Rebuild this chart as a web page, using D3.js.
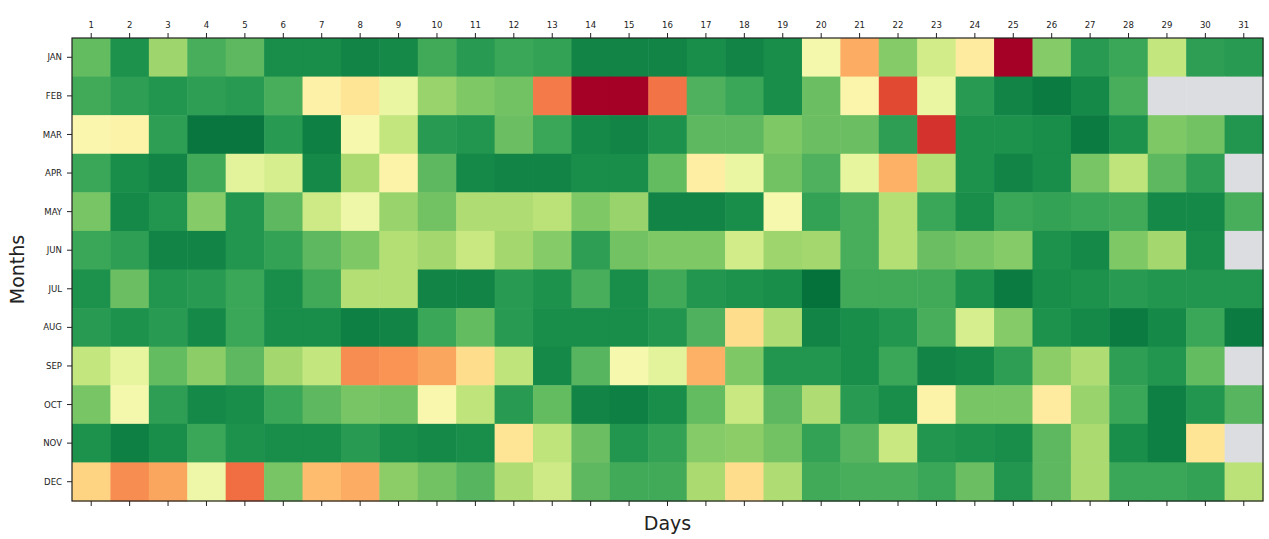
<!DOCTYPE html>
<html>
<head>
<meta charset="utf-8">
<script src="https://cdn.jsdelivr.net/npm/d3@7"></script>
<style>
  html, body { margin: 0; padding: 0; background: #ffffff; }
  svg { display: block; }
</style>
</head>
<body>
<svg id="chart" width="1269" height="539"></svg>
<script>
const months = ["JAN","FEB","MAR","APR","MAY","JUN","JUL","AUG","SEP","OCT","NOV","DEC"];
const days = d3.range(1, 32);

const jan = [0.80,0.91,0.71,0.84,0.81,0.92,0.92,0.94,0.93,0.85,0.89,0.86,0.87,0.94,0.94,0.94,0.92,0.94,0.92,0.52,0.30,0.75,0.61,0.44,0.00,0.75,0.89,0.86,0.64,0.88,0.89];
const feb = [0.85,0.88,0.90,0.88,0.89,0.84,0.46,0.42,0.55,0.72,0.76,0.78,0.22,0.00,0.00,0.21,0.83,0.86,0.92,0.79,0.48,0.14,0.55,0.89,0.94,0.96,0.93,0.84,null,null,null];
const mar = [0.49,0.47,0.88,0.97,0.97,0.89,0.95,0.51,0.64,0.89,0.90,0.79,0.86,0.93,0.94,0.91,0.81,0.81,0.76,0.79,0.79,0.88,0.10,0.91,0.91,0.92,0.96,0.91,0.76,0.78,0.90];
const apr = [0.86,0.92,0.94,0.85,0.57,0.60,0.93,0.69,0.47,0.81,0.93,0.94,0.94,0.92,0.92,0.80,0.45,0.55,0.78,0.83,0.56,0.31,0.67,0.91,0.94,0.92,0.77,0.65,0.81,0.88,null];
const may = [0.77,0.93,0.90,0.75,0.90,0.81,0.62,0.54,0.72,0.78,0.68,0.68,0.66,0.76,0.72,0.94,0.94,0.92,0.51,0.87,0.84,0.67,0.86,0.92,0.86,0.87,0.86,0.85,0.93,0.93,0.84];
const jun = [0.86,0.88,0.94,0.94,0.90,0.87,0.81,0.76,0.67,0.70,0.63,0.70,0.75,0.88,0.78,0.76,0.76,0.61,0.71,0.70,0.84,0.67,0.79,0.77,0.75,0.91,0.93,0.76,0.70,0.92,null];
const jul = [0.91,0.79,0.90,0.89,0.86,0.92,0.85,0.67,0.67,0.94,0.94,0.89,0.91,0.84,0.92,0.85,0.90,0.91,0.92,0.98,0.85,0.85,0.85,0.91,0.96,0.92,0.91,0.89,0.90,0.90,0.90];
const aug = [0.89,0.91,0.89,0.93,0.86,0.92,0.92,0.95,0.94,0.86,0.80,0.89,0.92,0.92,0.92,0.90,0.83,0.40,0.68,0.94,0.92,0.90,0.84,0.60,0.75,0.91,0.93,0.96,0.93,0.86,0.96];
const sep = [0.64,0.56,0.80,0.74,0.81,0.70,0.64,0.25,0.26,0.29,0.40,0.65,0.93,0.82,0.51,0.57,0.31,0.76,0.90,0.90,0.92,0.86,0.94,0.93,0.88,0.74,0.68,0.88,0.90,0.80,null];
const oct = [0.77,0.52,0.88,0.93,0.92,0.86,0.81,0.77,0.78,0.50,0.65,0.89,0.80,0.94,0.95,0.92,0.80,0.63,0.81,0.68,0.89,0.92,0.47,0.77,0.77,0.44,0.72,0.86,0.95,0.90,0.82];
const nov = [0.91,0.95,0.92,0.86,0.91,0.92,0.92,0.89,0.92,0.93,0.92,0.42,0.65,0.79,0.90,0.87,0.75,0.74,0.78,0.87,0.82,0.63,0.90,0.91,0.92,0.81,0.69,0.92,0.95,0.42,null];
const dec = [0.38,0.25,0.29,0.54,0.20,0.77,0.33,0.30,0.74,0.78,0.82,0.68,0.62,0.81,0.85,0.85,0.69,0.40,0.68,0.85,0.84,0.84,0.86,0.79,0.90,0.81,0.69,0.86,0.86,0.87,0.66];

const monthValues = [jan, feb, mar, apr, may, jun, jul, aug, sep, oct, nov, dec];

const cells = [];
months.forEach((m, i) => {
  days.forEach((d, j) => {
    cells.push({ month: m, day: d, value: monthValues[i][j] });
  });
});

const svg = d3.select("#chart");
const margin = { left: 72, right: 6, top: 38, bottom: 38 };
const W = 1269, H = 539;
const plotW = W - margin.left - margin.right;
const plotH = H - margin.top - margin.bottom;

const x = d3.scaleBand().domain(days).range([margin.left, margin.left + plotW]);
const y = d3.scaleBand().domain(months).range([margin.top, margin.top + plotH]);
const color = d3.scaleSequential(d3.interpolateRdYlGn).domain([0, 1]);

svg.append("g")
  .selectAll("rect")
  .data(cells)
  .join("rect")
  .attr("x", d => x(d.day))
  .attr("y", d => y(d.month))
  .attr("width", x.bandwidth() + 0.5)
  .attr("height", y.bandwidth() + 0.5)
  .attr("fill", d => d.value == null ? "#dcdde0" : color(d.value));

// frame
svg.append("rect")
  .attr("x", margin.left)
  .attr("y", margin.top)
  .attr("width", plotW)
  .attr("height", plotH)
  .attr("fill", "none")
  .attr("stroke", "#222")
  .attr("stroke-width", 1.2);

const tickFont = "'DejaVu Sans Condensed', 'DejaVu Sans', sans-serif";

const topAxis = svg.append("g")
  .attr("transform", `translate(0,${margin.top})`)
  .call(d3.axisTop(x).tickSize(5).tickPadding(5));
topAxis.select(".domain").remove();
topAxis.selectAll("text").attr("font-size", 9.5).attr("font-family", tickFont).attr("fill", "#222");
topAxis.selectAll("line").attr("stroke", "#222");

const bottomAxis = svg.append("g")
  .attr("transform", `translate(0,${margin.top + plotH})`)
  .call(d3.axisBottom(x).tickSize(5).tickFormat(""));
bottomAxis.select(".domain").remove();
bottomAxis.selectAll("line").attr("stroke", "#222");

const leftAxis = svg.append("g")
  .attr("transform", `translate(${margin.left},0)`)
  .call(d3.axisLeft(y).tickSize(5).tickPadding(5));
leftAxis.select(".domain").remove();
leftAxis.selectAll("text").attr("font-size", 9.5).attr("font-family", tickFont).attr("fill", "#222");
leftAxis.selectAll("line").attr("stroke", "#222");

svg.append("text")
  .attr("x", margin.left + plotW / 2)
  .attr("y", 530)
  .attr("text-anchor", "middle")
  .attr("font-family", "'DejaVu Sans', sans-serif")
  .attr("font-size", 19)
  .attr("fill", "#222")
  .text("Days");

svg.append("text")
  .attr("transform", `translate(24,${margin.top + plotH / 2}) rotate(-90)`)
  .attr("text-anchor", "middle")
  .attr("font-family", "'DejaVu Sans', sans-serif")
  .attr("font-size", 19)
  .attr("fill", "#222")
  .text("Months");
</script>
</body>
</html>
